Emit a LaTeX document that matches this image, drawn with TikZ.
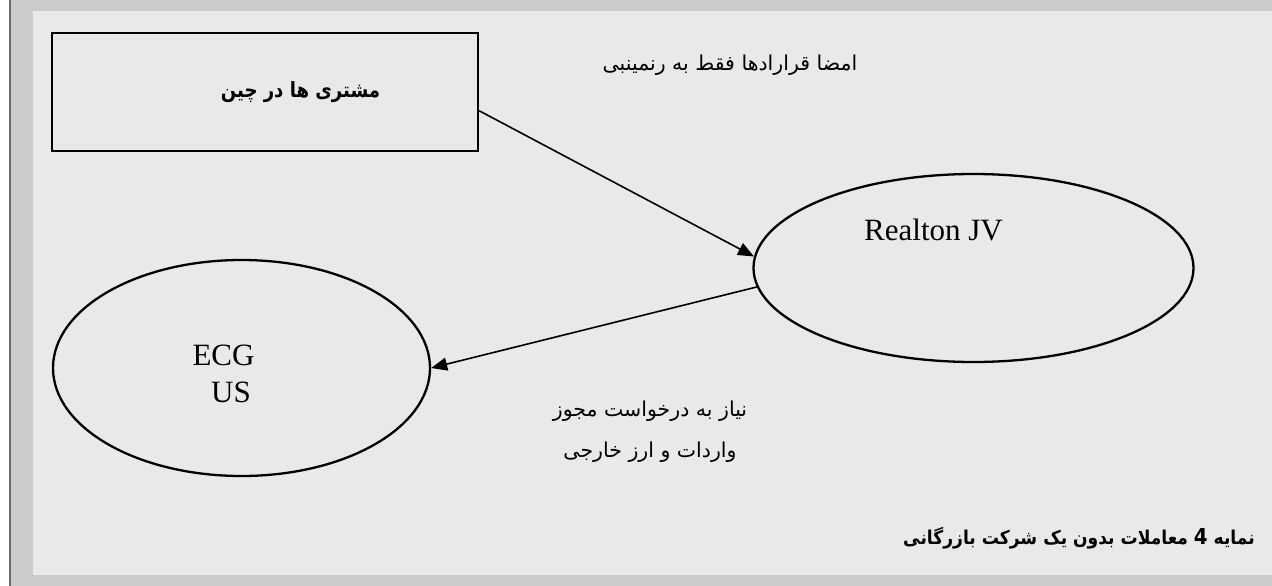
\documentclass[tikz,border=0pt]{standalone}
\usepackage{fontspec}
\usepackage{graphicx}
\setmainfont{Liberation Serif}
\newfontfamily\arabicfont[Script=Arabic]{DejaVu Sans}
\TeXXeTstate=1
\usetikzlibrary{shapes.geometric,arrows.meta}
\definecolor{framegray}{HTML}{CBCBCB}
\definecolor{panel}{HTML}{E9E9E9}
\definecolor{edgegray}{HTML}{6A6A6A}
\tikzset{
  party/.style={draw=black, line width=2.3pt, ellipse, inner sep=0pt},
  clientbox/.style={draw=black, line width=2.3pt, rectangle, inner sep=0pt},
  flow/.style={draw=black, line width=1.6pt, -{Triangle[length=16pt,width=13pt]}},
  latin/.style={font=\fontsize{31}{36}\selectfont, inner sep=0pt},
  farsi/.style={font=\arabicfont\fontsize{20.5}{41}\selectfont, inner sep=0pt, align=center},
  farsibold/.style={font=\arabicfont\bfseries\fontsize{21}{36}\selectfont, inner sep=0pt}
}
\begin{document}
\begin{tikzpicture}[x=1pt,y=-1pt]
  \useasboundingbox (0,0) rectangle (1272,586);
  % page frame
  \fill[framegray] (0,0) rectangle (1272,586);
  \fill[white] (0,0) rectangle (9,586);
  \fill[edgegray] (9,0) rectangle (11,586);
  \fill[panel] (33,11) rectangle (1272,575);

  % parties
  \node[clientbox, minimum width=426pt, minimum height=118pt] (box) at (265,92) {};
  \node[party, minimum width=440pt, minimum height=188pt] (rjv) at (973.5,268) {};
  \node[party, minimum width=377pt, minimum height=216pt] (ecg) at (241.5,368) {};

  % labels
  \node[farsibold] (boxlbl) at (300.5,92) {\scalebox{0.86}[1]{\beginR مشتری ها در چین\endR}};
  \node[latin, anchor=base] (rjvlbl) at (933.5,240) {Realton JV};
  \node[latin, anchor=base] (ecglbl) at (223.5,365) {ECG};
  \node[latin, anchor=base] (uslbl) at (231,402) {US};
  \node[farsi] (toplbl) at (730,65) {\beginR امضا قرارادها فقط به رنمینبی\endR};
  \node[farsi] (permit) at (650,432) {\beginR نیاز به درخواست مجوز\endR\\\beginR واردات و ارز خارجی\endR};
  \node[farsibold, anchor=east, font=\arabicfont\bfseries\fontsize{19}{32}\selectfont] (caption) at (1255,538)
    {\scalebox{0.9}[1]{\beginR نمایه \fontsize{22}{32}\selectfont 4\fontsize{19}{32}\selectfont{} معاملات بدون یک شرکت بازرگانی\endR}};

  % connectors
  \draw[flow] (box.-5.6) -- (rjv.177.4);
  \draw[flow] (rjv.185) -- (ecg.east);
\end{tikzpicture}
\end{document}
